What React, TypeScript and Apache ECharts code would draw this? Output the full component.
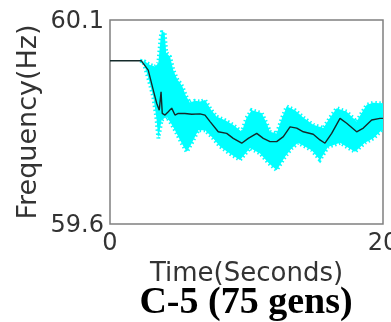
import React, { useEffect, useRef } from "react";
import * as echarts from "echarts";

// Mean frequency trace (time in s, frequency in Hz)
const meanTime = [0, 2.3, 2.8, 3.17, 3.42, 3.61, 3.74, 3.83, 4.03, 4.27, 4.52, 4.76, 5.0, 5.49, 5.99, 6.59, 6.96, 7.33, 7.93, 8.55, 9.03, 9.65, 10.13, 10.75, 11.23, 11.72, 12.21, 12.7, 13.19, 13.68, 14.16, 14.89, 15.38, 15.75, 16.24, 16.85, 17.34, 18.07, 18.56, 19.17, 19.78, 20];
const meanFreq = [60.0, 60.0, 59.977, 59.928, 59.896, 59.879, 59.924, 59.871, 59.867, 59.875, 59.884, 59.867, 59.871, 59.871, 59.869, 59.87, 59.867, 59.851, 59.826, 59.822, 59.81, 59.798, 59.81, 59.822, 59.81, 59.802, 59.802, 59.814, 59.838, 59.835, 59.826, 59.82, 59.806, 59.798, 59.822, 59.859, 59.847, 59.826, 59.835, 59.855, 59.859, 59.859];

// Upper envelope of the spread band
const upperTime = [2.2, 2.56, 2.93, 3.3, 3.54, 3.72, 3.8, 4.0, 4.12, 4.4, 4.64, 4.95, 5.13, 5.3, 5.55, 5.86, 6.2, 6.6, 6.96, 7.4, 7.82, 8.4, 9.01, 9.65, 10.0, 10.38, 10.75, 11.11, 11.5, 11.72, 12.21, 12.6, 12.95, 13.55, 14.2, 14.89, 15.63, 16.1, 16.61, 17.34, 18.07, 18.4, 18.81, 19.3, 19.78, 20];
const upperFreq = [60.0, 59.998, 59.99, 59.986, 59.994, 60.06, 60.07, 60.07, 60.02, 60.01, 59.977, 59.953, 59.946, 59.937, 59.915, 59.897, 59.902, 59.9, 59.904, 59.88, 59.863, 59.855, 59.843, 59.826, 59.86, 59.879, 59.875, 59.872, 59.845, 59.826, 59.822, 59.86, 59.888, 59.879, 59.86, 59.843, 59.835, 59.86, 59.884, 59.875, 59.851, 59.87, 59.892, 59.897, 59.896, 59.896];

// Lower envelope of the spread band
const lowerTime = [2.2, 2.44, 2.81, 3.17, 3.4, 3.54, 3.7, 3.79, 4.15, 4.5, 4.76, 5.25, 5.62, 5.99, 6.47, 6.96, 7.5, 8.06, 8.8, 9.52, 10.26, 10.99, 11.6, 12.21, 12.82, 13.3, 13.77, 14.78, 15.38, 15.97, 16.85, 17.95, 18.68, 19.3, 19.9, 20];
const lowerFreq = [60.0, 59.998, 59.957, 59.912, 59.86, 59.81, 59.84, 59.855, 59.863, 59.845, 59.83, 59.798, 59.777, 59.798, 59.83, 59.83, 59.812, 59.79, 59.772, 59.757, 59.786, 59.773, 59.75, 59.732, 59.765, 59.785, 59.799, 59.781, 59.757, 59.789, 59.799, 59.777, 59.799, 59.81, 59.83, 59.83];

const xTicks = [0, 20];
const yTicks = [59.6, 60.1];
const title = "C-5 (75 gens)";

export default function App() {
  const ref = useRef<HTMLDivElement>(null);
  useEffect(() => {
    if (!ref.current) return;
    const chart = echarts.init(ref.current, undefined, { renderer: "svg" });
    const sans = "DejaVu Sans";
    chart.setOption({
      animation: false,
      grid: {
        left: 110,
        right: 8,
        top: 20,
        bottom: 98,
        show: true,
        borderColor: "#808080",
        borderWidth: 1.5,
        outerBoundsMode: "none",
        containLabel: false,
      },
      xAxis: {
        type: "value",
        min: xTicks[0],
        max: xTicks[1],
        interval: xTicks[1] - xTicks[0],
        name: "Time(Seconds)",
        nameLocation: "middle",
        nameGap: 25,
        nameTextStyle: { fontFamily: sans, fontSize: 26, color: "#333" },
        axisLine: { show: false },
        axisTick: { show: false },
        splitLine: { show: false },
        axisLabel: { fontFamily: sans, fontSize: 24, color: "#333", margin: 6 },
      },
      yAxis: {
        type: "value",
        min: yTicks[0],
        max: yTicks[1],
        interval: 0.5,
        name: "Frequency(Hz)",
        nameLocation: "middle",
        nameGap: 68,
        nameTextStyle: { fontFamily: sans, fontSize: 27, color: "#333" },
        axisLine: { show: false },
        axisTick: { show: false },
        splitLine: { show: false },
        axisLabel: {
          fontFamily: sans,
          fontSize: 24,
          color: "#333",
          margin: 6,
          formatter: (v: number) => v.toFixed(1),
        },
      },
      graphic: [
        {
          type: "text",
          x: 246,
          y: 300,
          style: {
            text: title,
            fontFamily: "Liberation Serif",
            fontWeight: "bold",
            fontSize: 38,
            fill: "#000",
            textAlign: "center",
            textVerticalAlign: "middle",
          },
        },
      ],
      series: [
        {
          type: "custom",
          z: 1,
          clip: true,
          data: [[upperTime[0], upperFreq[0]]],
          renderItem: (_params: any, api: any) => {
            const pts: number[][] = [];
            for (let i = 0; i < upperTime.length; i++) pts.push(api.coord([upperTime[i], upperFreq[i]]));
            for (let i = lowerTime.length - 1; i >= 0; i--) pts.push(api.coord([lowerTime[i], lowerFreq[i]]));
            return {
              type: "polygon",
              shape: { points: pts },
              style: { fill: "#00ffff", stroke: "#00ffff", lineWidth: 4, lineDash: [1.5, 2.5] },
            };
          },
        },
        {
          type: "line",
          z: 3,
          showSymbol: false,
          data: meanTime.map((t, i) => [t, meanFreq[i]]),
          lineStyle: { color: "#142a2a", width: 1.4 },
        },
      ],
    });
    return () => chart.dispose();
  }, []);
  return <div ref={ref} style={{ position: "fixed", left: 0, top: 0, width: 391, height: 322 }} />;
}
